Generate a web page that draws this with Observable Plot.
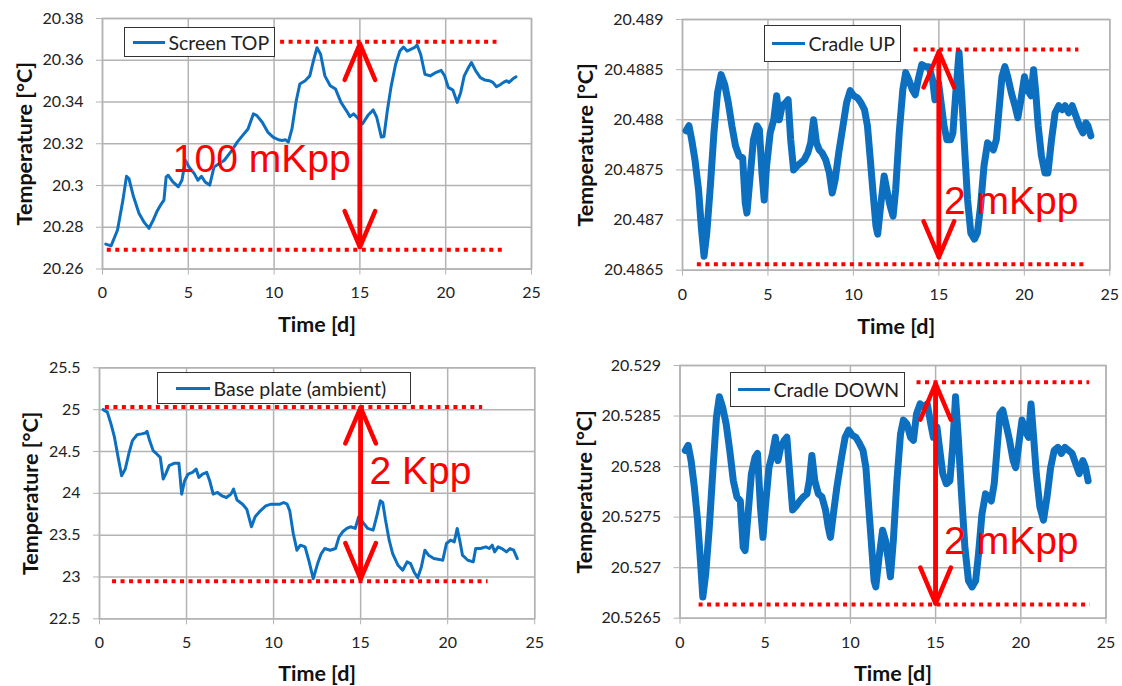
<!DOCTYPE html>
<html><head><meta charset="utf-8">
<script src="https://cdn.jsdelivr.net/npm/d3@7"></script>
<script src="https://cdn.jsdelivr.net/npm/@observablehq/plot@0.6"></script>
<style>
body{margin:0;background:#fff;}
#root{position:relative;width:1122px;height:686px;overflow:hidden;background:#fff;font-family:Lato,sans-serif;}
.panel{position:absolute;}
.legend{position:absolute;background:#fff;border:1.5px solid #333;box-sizing:border-box;display:flex;align-items:center;font-family:Lato,sans-serif;font-size:19.5px;color:#222;white-space:nowrap;}
.legend .swatch{display:inline-block;height:3px;background:#0d6fbf;margin-right:4px;}
</style></head>
<body><div id="root"></div>
<script>
// ---------- data ----------
const xTicks = [0, 5, 10, 15, 20, 25];
const screenTopTicks = [20.26, 20.28, 20.3, 20.32, 20.34, 20.36, 20.38];
const cradleUpTicks = [20.4865, 20.487, 20.4875, 20.488, 20.4885, 20.489];
const basePlateTicks = [22.5, 23, 23.5, 24, 24.5, 25, 25.5];
const cradleDownTicks = [20.5265, 20.527, 20.5275, 20.528, 20.5285, 20.529];

const screenTopT = [0.19,0.5,0.875,1.19,1.4,1.54,1.81,2.125,2.44,2.71,2.96,3.17,3.42,3.58,3.71,3.83,4.1,4.42,4.63,4.83,5.04,5.35,5.56,5.77,5.98,6.25,6.5,6.81,7.1,7.54,7.85,8.17,8.48,8.79,9.0,9.31,9.63,9.94,10.25,10.46,10.67,10.83,11.04,11.29,11.5,11.81,12.08,12.29,12.5,12.71,12.96,13.27,13.58,13.9,14.21,14.42,14.63,14.83,15.15,15.46,15.77,15.98,16.25,16.4,16.6,16.81,17.08,17.33,17.54,17.75,17.96,18.17,18.33,18.54,18.79,19.1,19.42,19.73,19.94,20.15,20.42,20.67,20.875,21.08,21.33,21.5,21.75,22.02,22.29,22.54,22.75,22.96,23.17,23.37,23.54,23.69,23.9,24.1];
const screenTopV = [20.2719,20.2711,20.2787,20.2930,20.3044,20.3033,20.2946,20.2867,20.2822,20.2795,20.2835,20.2875,20.2911,20.2930,20.3041,20.3049,20.3017,20.2994,20.3025,20.3121,20.3089,20.3057,20.3025,20.3044,20.3017,20.3002,20.3089,20.3105,20.3121,20.3168,20.3208,20.3240,20.3271,20.3343,20.3335,20.3303,20.3256,20.3232,20.3219,20.3216,20.3219,20.3208,20.3271,20.3406,20.3486,20.3502,20.3525,20.3597,20.3660,20.3629,20.3525,20.3478,20.3462,20.3398,20.3359,20.3330,20.3343,20.3327,20.3295,20.3335,20.3362,20.3327,20.3232,20.3235,20.3359,20.3470,20.3581,20.3644,20.3663,20.3644,20.3652,20.3660,20.3673,20.3629,20.3533,20.3525,20.3541,20.3552,20.3525,20.3470,20.3457,20.3398,20.3446,20.3525,20.3565,20.3589,20.3549,20.3517,20.3505,20.3502,20.3494,20.3473,20.3483,20.3494,20.3502,20.3494,20.3510,20.3521];

const cradleUpT = [0.21,0.38,0.54,0.73,0.94,1.11,1.26,1.42,1.63,1.84,2.05,2.26,2.47,2.68,2.89,3.1,3.31,3.52,3.67,3.77,3.94,4.15,4.36,4.5,4.65,4.78,4.92,5.13,5.34,5.51,5.66,5.83,6.04,6.18,6.33,6.5,6.71,6.92,7.12,7.33,7.5,7.67,7.84,8.0,8.17,8.38,8.59,8.76,8.93,9.14,9.39,9.6,9.81,10.02,10.23,10.44,10.65,10.82,10.99,11.15,11.32,11.42,11.59,11.8,11.99,12.15,12.32,12.47,12.68,12.89,13.06,13.24,13.45,13.62,13.79,14.0,14.21,14.42,14.63,14.77,14.98,15.13,15.3,15.47,15.68,15.82,15.99,16.18,16.35,16.51,16.68,16.87,17.08,17.25,17.44,17.64,17.85,18.02,18.19,18.36,18.52,18.69,18.86,19.03,19.24,19.45,19.62,19.8,20.01,20.18,20.39,20.54,20.67,20.81,21.0,21.21,21.38,21.59,21.8,22.01,22.22,22.38,22.59,22.8,23.01,23.22,23.43,23.6,23.72,23.89];
const cradleUpV = [20.48789,20.48794,20.48780,20.48760,20.48730,20.48691,20.48664,20.48687,20.48734,20.48787,20.48827,20.48845,20.48835,20.48817,20.48794,20.48774,20.48764,20.48762,20.48717,20.48707,20.48740,20.48780,20.48794,20.48790,20.48747,20.48720,20.48754,20.48787,20.48800,20.48824,20.48800,20.48814,20.48817,20.48820,20.48780,20.48750,20.48754,20.48757,20.48760,20.48767,20.48777,20.48800,20.48777,20.48770,20.48767,20.48760,20.48747,20.48727,20.48740,20.48767,20.48794,20.48817,20.48829,20.48824,20.48822,20.48817,20.48810,20.48794,20.48760,20.48727,20.48694,20.48686,20.48714,20.48744,20.48727,20.48714,20.48704,20.48730,20.48787,20.48830,20.48847,20.48840,20.48830,20.48825,20.48840,20.48855,20.48853,20.48853,20.48840,20.48820,20.48837,20.48817,20.48794,20.48780,20.48780,20.48787,20.48827,20.48867,20.48820,20.48770,20.48720,20.48687,20.48681,20.48687,20.48714,20.48754,20.48777,20.48774,20.48770,20.48780,20.48810,20.48843,20.48853,20.48843,20.48827,20.48814,20.48802,20.48820,20.48843,20.48830,20.48824,20.48850,20.48827,20.48794,20.48764,20.48747,20.48747,20.48780,20.48807,20.48814,20.48810,20.48814,20.48807,20.48814,20.48804,20.48794,20.48787,20.48797,20.48794,20.48784];

const basePlateT = [0.21,0.45,0.66,0.86,1.07,1.27,1.48,1.68,1.89,2.16,2.42,2.63,2.73,2.88,3.08,3.29,3.49,3.66,3.8,4.0,4.31,4.56,4.72,4.89,5.09,5.34,5.55,5.71,5.92,6.16,6.33,6.53,6.78,7.03,7.29,7.55,7.7,7.9,8.22,8.46,8.73,8.94,9.24,9.55,9.86,10.17,10.37,10.58,10.78,10.93,11.13,11.34,11.54,11.81,12.02,12.28,12.53,12.74,12.94,13.25,13.56,13.76,13.97,14.21,14.42,14.69,14.89,15.1,15.41,15.72,15.92,16.13,16.27,16.43,16.64,16.84,17.15,17.42,17.67,17.87,18.07,18.28,18.49,18.69,18.9,19.21,19.52,19.72,19.93,20.17,20.38,20.55,20.71,20.85,21.16,21.47,21.61,21.88,22.19,22.39,22.56,22.7,22.9,23.11,23.38,23.58,23.79,24.0];
const basePlateV = [25.00,24.97,24.83,24.67,24.43,24.21,24.29,24.47,24.63,24.70,24.71,24.72,24.74,24.63,24.51,24.47,24.43,24.17,24.23,24.33,24.36,24.36,23.99,24.15,24.23,24.25,24.29,24.19,24.23,24.25,24.15,23.99,24.01,23.97,23.95,23.99,24.05,23.92,23.87,23.81,23.60,23.72,23.79,23.85,23.87,23.87,23.87,23.89,23.87,23.79,23.52,23.32,23.38,23.36,23.20,22.98,23.16,23.28,23.34,23.32,23.34,23.48,23.54,23.58,23.60,23.58,23.72,23.66,23.58,23.56,23.72,23.91,23.89,23.68,23.44,23.28,23.14,23.08,23.18,23.16,23.06,22.99,23.12,23.32,23.26,23.22,23.21,23.20,23.40,23.44,23.42,23.58,23.42,23.26,23.20,23.18,23.34,23.34,23.36,23.34,23.38,23.30,23.36,23.34,23.30,23.34,23.32,23.22];

const cradleDownT = [0.31,0.48,0.65,0.84,1.03,1.2,1.34,1.51,1.72,1.93,2.14,2.31,2.5,2.71,2.92,3.13,3.34,3.54,3.71,3.82,3.98,4.19,4.4,4.55,4.72,4.87,5.01,5.22,5.43,5.6,5.75,5.91,6.12,6.27,6.44,6.61,6.82,7.03,7.24,7.45,7.59,7.74,7.91,8.12,8.33,8.54,8.7,8.83,9.0,9.21,9.48,9.69,9.9,10.11,10.32,10.53,10.74,10.91,11.05,11.22,11.39,11.49,11.68,11.89,12.06,12.23,12.35,12.52,12.73,12.94,13.11,13.32,13.53,13.7,13.88,14.09,14.3,14.51,14.72,14.87,15.08,15.25,15.42,15.63,15.84,16.0,16.17,16.34,16.51,16.72,16.93,17.14,17.35,17.52,17.72,17.93,18.1,18.27,18.44,18.6,18.77,18.94,19.13,19.34,19.55,19.7,19.86,20.07,20.24,20.45,20.6,20.74,20.91,21.12,21.33,21.54,21.75,21.96,22.17,22.38,22.59,22.8,23.01,23.22,23.43,23.64,23.8,23.95];
const cradleDownV = [20.52816,20.52821,20.52806,20.52780,20.52747,20.52707,20.52671,20.52694,20.52740,20.52796,20.52849,20.52869,20.52859,20.52842,20.52816,20.52786,20.52770,20.52766,20.52720,20.52717,20.52750,20.52793,20.52809,20.52813,20.52760,20.52730,20.52760,20.52799,20.52813,20.52829,20.52806,20.52819,20.52826,20.52829,20.52793,20.52757,20.52761,20.52766,20.52770,20.52773,20.52786,20.52811,20.52786,20.52773,20.52770,20.52757,20.52740,20.52730,20.52753,20.52780,20.52809,20.52829,20.52836,20.52831,20.52829,20.52823,20.52816,20.52799,20.52766,20.52727,20.52687,20.52681,20.52710,20.52737,20.52727,20.52707,20.52691,20.52727,20.52786,20.52832,20.52846,20.52842,20.52829,20.52826,20.52852,20.52862,20.52859,20.52862,20.52842,20.52829,20.52839,20.52816,20.52793,20.52783,20.52786,20.52819,20.52869,20.52826,20.52776,20.52720,20.52687,20.52681,20.52687,20.52714,20.52753,20.52773,20.52770,20.52766,20.52783,20.52816,20.52852,20.52856,20.52842,20.52826,20.52806,20.52799,20.52819,20.52846,20.52836,20.52829,20.52862,20.52832,20.52793,20.52760,20.52747,20.52770,20.52799,20.52816,20.52819,20.52813,20.52819,20.52816,20.52813,20.52803,20.52793,20.52806,20.52799,20.52786];

// peak-to-peak guide lines [y, xFrom, xTo], arrow [x, yLow, yHigh], label [text, x, y]
const screenTopGuides = [[20.3689, 10.35, 22.96], [20.2692, 0.25, 23.48]];
const screenTopArrow = [15, 20.2705, 20.3678];
const screenTopLabel = ["100 mKpp", 4.1, 20.3125];
const cradleUpGuides = [[20.4887, 13.52, 23.16], [20.48656, 0.84, 23.68]];
const cradleUpArrow = [15, 20.48663, 20.48868];
const cradleUpLabel = ["2 mKpp", 15.3, 20.48718];
const basePlateGuides = [[25.03, 0.31, 21.98], [22.95, 0.72, 22.29]];
const basePlateArrow = [15, 22.975, 25.025];
const basePlateLabel = ["2 Kpp", 15.51, 24.263];
const cradleDownGuides = [[20.528835, 13.88, 24.01], [20.526635, 1.09, 24.05]];
const cradleDownArrow = [15, 20.526645, 20.52882];
const cradleDownLabel = ["2 mKpp", 15.5, 20.52726];

// ---------- drawing ----------
const BLUE = "#0d6fbf", RED = "#ff0000", GRID = "#b3b3b3";
const zip = (T, V) => T.slice(0, Math.min(T.length, V.length)).map((t, i) => ({t, v: V[i]}));
const fmt = d => String(+d.toFixed(5));

function panel(cfg) {
  const data = zip(cfg.T, cfg.V);
  const guides = cfg.guides.map(([y, x1, x2]) => ({y, x1, x2}));
  const [ax, alo, ahi] = cfg.arrow;
  const arrows = [{x: ax, y1: alo, y2: ahi}, {x: ax, y1: ahi, y2: alo}];
  const lbl = [{text: cfg.label[0], x: cfg.label[1], y: cfg.label[2]}];
  const yDom = [cfg.yTicks[0], cfg.yTicks[cfg.yTicks.length - 1]];
  const chart = Plot.plot({
    width: cfg.w, height: cfg.h,
    marginLeft: cfg.m[0], marginRight: cfg.m[1], marginTop: cfg.m[2], marginBottom: cfg.m[3],
    style: {fontFamily: "Lato, sans-serif", background: "transparent", overflow: "visible"},
    x: {domain: [0, 25], label: null},
    y: {domain: yDom, label: null},
    marks: [
      Plot.gridX(xTicks, {stroke: GRID, strokeOpacity: 1, strokeWidth: 1.5}),
      Plot.gridY(cfg.yTicks, {stroke: GRID, strokeOpacity: 1, strokeWidth: 1.5}),
      Plot.frame({stroke: GRID, strokeWidth: 1.5}),
      Plot.axisX(xTicks, {tickSize: 6, tickPadding: 12, fontSize: 16, stroke: GRID, fill: "#222", label: null, tickFormat: fmt}),
      Plot.axisY(cfg.yTicks, {tickSize: 6, tickPadding: 13, fontSize: 16, stroke: GRID, fill: "#222", label: null, tickFormat: fmt}),
      Plot.text(["Time [d]"], {text: d => d, frameAnchor: "bottom", textAnchor: "middle", dy: cfg.xTitleDy, lineAnchor: "middle", fontSize: 21.5, fontWeight: "bold", fill: "#111"}),
      Plot.text(["Temperature [°C]"], {text: d => d, frameAnchor: "left", textAnchor: "middle", dx: cfg.yTitleDx, rotate: -90, lineAnchor: "middle", fontSize: 21.5, fontWeight: "bold", fill: "#111"}),
      Plot.line(data, {x: "t", y: "v", stroke: BLUE, strokeWidth: cfg.lw, strokeLinejoin: "round", strokeLinecap: "round"}),
      Plot.link(guides, {x1: "x1", x2: "x2", y1: "y", y2: "y", stroke: RED, strokeWidth: 4, strokeDasharray: "4 4.5", strokeLinecap: "butt"}),
      Plot.arrow(arrows, {x: "x", y1: "y1", y2: "y2", stroke: RED, strokeWidth: 4.5, headAngle: 46, headLength: 13}),
      Plot.text(lbl, {x: "x", y: "y", text: "text", textAnchor: "start", lineAnchor: "middle", fill: RED, fontSize: 39, fontFamily: "'Liberation Sans', Arial, sans-serif"})
    ]
  });
  const wrap = document.createElement("div");
  wrap.className = "panel";
  wrap.style.left = cfg.left + "px";
  wrap.style.top = cfg.top + "px";
  wrap.appendChild(chart);
  document.getElementById("root").appendChild(wrap);

  const lg = document.createElement("div");
  lg.className = "legend";
  const [bx, by, bw, bh, sl, swW] = cfg.legendBox;
  Object.assign(lg.style, {left: bx + "px", top: by + "px", width: bw + "px", height: bh + "px", paddingLeft: sl + "px"});
  const sw = document.createElement("span");
  sw.className = "swatch";
  sw.style.width = swW + "px";
  const tx = document.createElement("span");
  tx.textContent = cfg.name;
  lg.appendChild(sw); lg.appendChild(tx);
  document.getElementById("root").appendChild(lg);
}

panel({name: "Screen TOP", T: screenTopT, V: screenTopV, yTicks: screenTopTicks, lw: 3,
  guides: screenTopGuides, arrow: screenTopArrow, label: screenTopLabel,
  left: 0, top: 0, w: 560, h: 340, m: [102, 29, 18, 71.5], xTitleDy: 56.5, yTitleDx: -77.5,
  legendBox: [124, 27, 151, 30, 7.5, 32]});
panel({name: "Cradle UP", T: cradleUpT, V: cradleUpV, yTicks: cradleUpTicks, lw: 7,
  guides: cradleUpGuides, arrow: cradleUpArrow, label: cradleUpLabel,
  left: 560, top: 0, w: 562, h: 340, m: [122, 12.7, 19, 70.3], xTitleDy: 57, yTitleDx: -96,
  legendBox: [764, 25, 137, 37, 6.5, 33]});
panel({name: "Base plate (ambient)", T: basePlateT, V: basePlateV, yTicks: basePlateTicks, lw: 3,
  guides: basePlateGuides, arrow: basePlateArrow, label: basePlateLabel,
  left: 0, top: 340, w: 560, h: 346, m: [99, 25.8, 27.3, 67.7], xTitleDy: 55, yTitleDx: -68,
  legendBox: [157, 372, 254, 32, 17.5, 34]});
panel({name: "Cradle DOWN", T: cradleDownT, V: cradleDownV, yTicks: cradleDownTicks, lw: 7,
  guides: cradleDownGuides, arrow: cradleDownArrow, label: cradleDownLabel,
  left: 560, top: 340, w: 562, h: 346, m: [119.5, 16.5, 25, 68.3], xTitleDy: 56, yTitleDx: -94.5,
  legendBox: [730, 372, 175, 35, 6.5, 32]});
</script>
</body></html>
